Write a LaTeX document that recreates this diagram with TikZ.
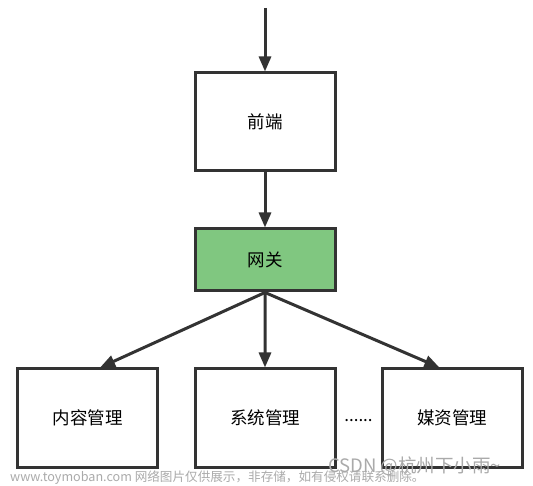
\documentclass[tikz,border=0pt]{standalone}
\usepackage{fontspec}
\setmainfont{Noto Sans CJK SC}
\usepackage{xcolor}
\usetikzlibrary{arrows.meta,calc}

\definecolor{linegray}{RGB}{51,51,51}
\definecolor{gwgreen}{RGB}{128,199,128}
\definecolor{markgray}{RGB}{170,170,170}

\tikzset{
  box/.style={shape=rectangle,draw=linegray,line width=3pt,fill=white,
    minimum width=140pt,minimum height=98pt,inner sep=0pt,
    font=\fontsize{17.5}{20}\selectfont},
  arr/.style={draw=linegray,line width=3pt,-{Triangle[length=15pt,width=12pt]}}
}

\begin{document}
\begin{tikzpicture}[x=1pt,y=1pt,parent anchor=south,child anchor=north,
    edge from parent/.style={arr},
    level 1/.style={level distance=138pt},
    level 2/.style={level distance=158pt}]
  \useasboundingbox (0,0) rectangle (533,-486);
  \coordinate (start) at (265,-8);
      \node[box] (fe) at (265,-122) {前端}
        child{node[box,fill=gwgreen,minimum height=62pt] (gw) {网关}
                child[sibling distance=177.5pt,child anchor=76]{node[box] (nr) {内容管理}}
                child{node[box] (xt) {系统管理}}
                child[sibling distance=187pt,child anchor=104]{node[box] (mz) {媒资管理}}};
  \draw[arr] (start) -- (fe.north);
  \node[font=\fontsize{17}{20}\selectfont] (more) at ($(xt.east)!0.5!(mz.west)+(0,-3)$) {......};
  % watermark
  \node[anchor=west,text=markgray,font=\fontsize{12.6}{15}\selectfont,inner sep=0pt] (site) at (10,-478) {www.toymoban.com 网络图片仅供展示，非存储，如有侵权请联系删除。};
  \node[anchor=west,text=markgray,font=\fontsize{18.5}{20}\selectfont,inner sep=0pt] (csdn) at (328,-466) {CSDN @杭州下小雨\textasciitilde};
\end{tikzpicture}
\end{document}
